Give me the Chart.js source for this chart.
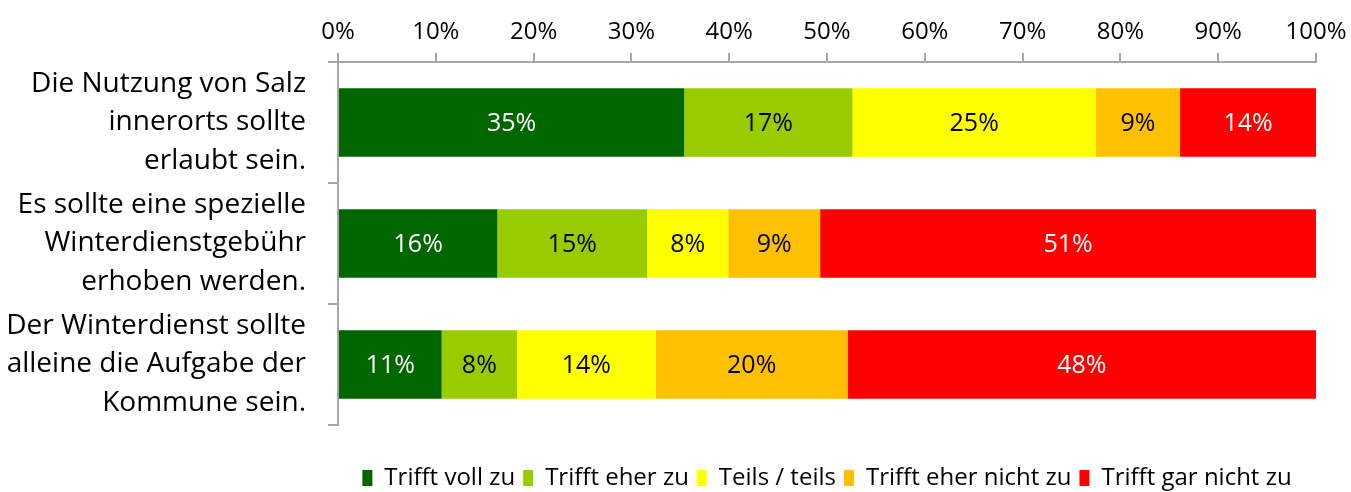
<!DOCTYPE html>
<html>
<head>
<meta charset="utf-8">
<script src="https://cdn.jsdelivr.net/npm/chart.js@4"></script>
<style>
  html, body { margin: 0; padding: 0; background: #fff; }
  #wrap { width: 1351px; height: 492px; }
</style>
</head>
<body>
<div id="wrap"><canvas id="chart"></canvas></div>
<script>
// Aussagen (Kategorien)
const statements = [
  ["Die Nutzung von Salz", "innerorts sollte", "erlaubt sein."],
  ["Es sollte eine spezielle", "Winterdienstgebühr", "erhoben werden."],
  ["Der Winterdienst sollte", "alleine die Aufgabe der", "Kommune sein."]
];
const seriesNames = ["Trifft voll zu", "Trifft eher zu", "Teils / teils", "Trifft eher nicht zu", "Trifft gar nicht zu"];
const colors = ["#006600", "#99cc00", "#ffff00", "#ffc000", "#ff0000"];
const labelColors = ["#ffffff", "#000000", "#000000", "#000000", "#ffffff"];

// Anteile in Prozent je Antwort
const trifftVoll = [35.4, 16.3, 10.6];
const trifftEher = [17.2, 15.3, 7.7];
const teilsTeils = [24.9, 8.3, 14.2];
const eherNicht = [8.6, 9.4, 19.6];
const garNicht = [13.9, 50.7, 47.9];
const xTicks = [0, 10, 20, 30, 40, 50, 60, 70, 80, 90, 100];

const seriesValues = [trifftVoll, trifftEher, teilsTeils, eherNicht, garNicht];
const axisGray = "#a6a6a6";

// Werte in die Balken schreiben
const barLabels = {
  id: "barLabels",
  afterDatasetsDraw(chart) {
    const ctx = chart.ctx;
    ctx.save();
    ctx.font = "25px 'Open Sans'";
    ctx.textAlign = "center";
    ctx.textBaseline = "middle";
    chart.data.datasets.forEach((ds, i) => {
      const meta = chart.getDatasetMeta(i);
      meta.data.forEach((bar, j) => {
        ctx.fillStyle = labelColors[i];
        ctx.fillText(Math.round(ds.data[j]) + "%", (bar.x + bar.base) / 2, bar.y + 1);
      });
    });
    ctx.restore();
  }
};

new Chart(document.getElementById("chart"), {
  type: "bar",
  data: {
    labels: statements,
    datasets: seriesNames.map((name, i) => ({
      label: name,
      data: seriesValues[i],
      backgroundColor: colors[i],
      borderWidth: 0,
      barPercentage: 0.567,
      categoryPercentage: 1
    }))
  },
  options: {
    indexAxis: "y",
    responsive: true,
    maintainAspectRatio: false,
    animation: false,
    layout: { padding: { left: 0, right: 35, top: 0, bottom: -8 } },
    scales: {
      x: {
        position: "top",
        stacked: true,
        min: 0,
        max: 100,
        afterBuildTicks: (s) => { s.ticks = xTicks.map(v => ({ value: v })); },
        afterFit: (s) => { s.height = 62; s.paddingLeft = 0; s.paddingRight = 0; },
        ticks: {
          callback: (v) => v + "%",
          color: "#000",
          font: { family: "'Open Sans'", size: 24 },
          padding: 6,
          maxRotation: 0
        },
        grid: { drawOnChartArea: false, color: axisGray, tickLength: 9, lineWidth: 2 },
        border: { color: axisGray, width: 2 }
      },
      x2: {
        type: "linear",
        position: "bottom",
        display: true,
        ticks: { display: false },
        grid: { display: false },
        border: { display: false },
        afterFit: (s) => { s.height = 33; }
      },
      y: {
        stacked: true,
        afterFit: (s) => { s.width = 338; s.paddingTop = 0; s.paddingBottom = 0; },
        ticks: {
          autoSkip: false,
          color: "#000",
          font: { family: "'Open Sans'", size: 28, lineHeight: 1.375 },
          padding: 22
        },
        grid: { drawOnChartArea: false, color: axisGray, tickLength: 10, lineWidth: 2, offset: true },
        border: { color: axisGray, width: 2 }
      }
    },
    plugins: {
      legend: {
        position: "bottom",
        fullSize: false,
        labels: {
          color: "#000",
          font: { family: "'Open Sans'", size: 24, lineHeight: "16px" },
          boxWidth: 10,
          boxHeight: 16,
          padding: 8
        }
      },
      tooltip: { enabled: false }
    }
  },
  plugins: [barLabels]
});
</script>
</body>
</html>
